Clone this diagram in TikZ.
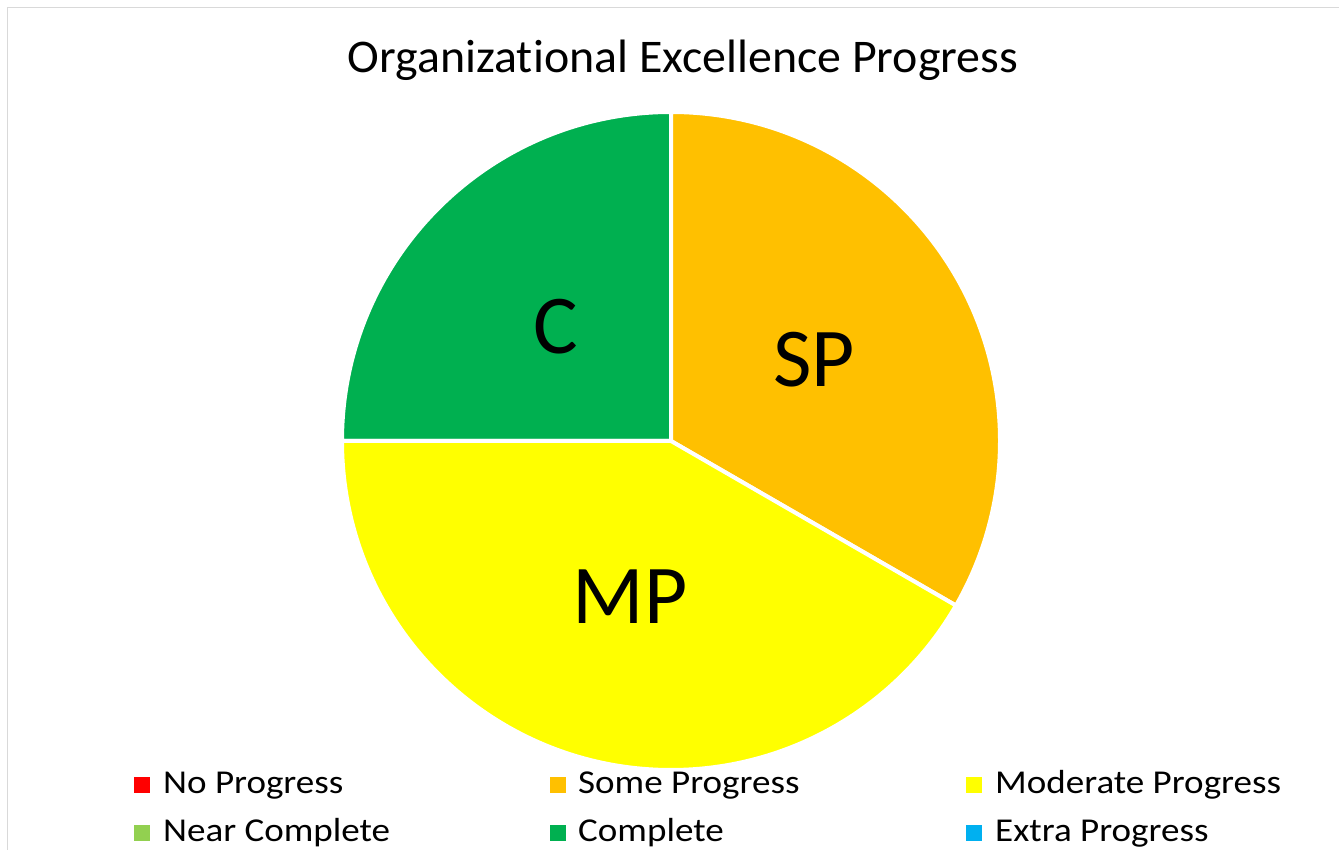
\documentclass[tikz,border=0pt]{standalone}
\usepackage{fontspec}
\setmainfont[Ligatures=NoCommon]{Carlito}
\newfontfamily\titlefont[Ligatures=NoCommon, FakeStretch=1.023]{Carlito}
\newfontfamily\legfont[Ligatures=NoCommon, FakeStretch=1.11]{Carlito}
\definecolor{cNP}{HTML}{FF0000}
\definecolor{cSP}{HTML}{FFC000}
\definecolor{cMP}{HTML}{FFFF00}
\definecolor{cNC}{HTML}{92D050}
\definecolor{cC}{HTML}{00B050}
\definecolor{cEP}{HTML}{00B0F0}
\definecolor{framegray}{HTML}{D9D9D9}
\tikzset{
  slice/.style={draw=white, line width=4bp},
  slicelabel/.style={anchor=base, inner sep=0pt, font=\fontsize{84}{90}\selectfont},
  titletext/.style={anchor=base, inner sep=0pt, font=\titlefont\fontsize{47}{56}\selectfont},
  legkey/.style={draw=none, inner sep=0pt, minimum size=16bp},
  legtext/.style={anchor=base west, inner sep=0pt, font=\legfont\fontsize{33.5}{40}\selectfont}
}
\begin{document}
\begin{tikzpicture}[x=1bp,y=1bp]
\useasboundingbox (0,0) rectangle (1339,849);
\clip (0,0) rectangle (1339,849);
\fill[white] (0,0) rectangle (1339,849);
\draw[framegray, line width=1.5bp] (7.5,-20) rectangle (1360,841.5);

\coordinate (c) at (671,408);
\filldraw[slice, fill=cC] (c) -- ++(90:329) arc[start angle=90, end angle=180, radius=329] -- cycle;
\filldraw[slice, fill=cSP] (c) -- ++(90:329) arc[start angle=90, end angle=-30, radius=329] -- cycle;
\filldraw[slice, fill=cMP] (c) -- ++(180:329) arc[start angle=180, end angle=330, radius=329] -- cycle;

\node[titletext] (title) at (683,776) {Organizational Excellence Progress};
\node[slicelabel] (lC) at (556,495) {C};
\node[slicelabel] (lSP) at (814,462) {SP};
\node[slicelabel] (lMP) at (630,225) {MP};

\node[legkey, fill=cNP] (k1) at (142,64.5) {};
\node[legtext] (t1) at (163,56) {No Progress};
\node[legkey, fill=cSP] (k2) at (558,64.5) {};
\node[legtext] (t2) at (578,56) {Some Progress};
\node[legkey, fill=cMP] (k3) at (974,64.5) {};
\node[legtext] (t3) at (995,56) {Moderate Progress};
\node[legkey, fill=cNC] (k4) at (142,16.5) {};
\node[legtext] (t4) at (163,8) {Near Complete};
\node[legkey, fill=cC] (k5) at (558,16.5) {};
\node[legtext] (t5) at (578,8) {Complete};
\node[legkey, fill=cEP] (k6) at (974,16.5) {};
\node[legtext] (t6) at (995,8) {Extra Progress};
\end{tikzpicture}
\end{document}
